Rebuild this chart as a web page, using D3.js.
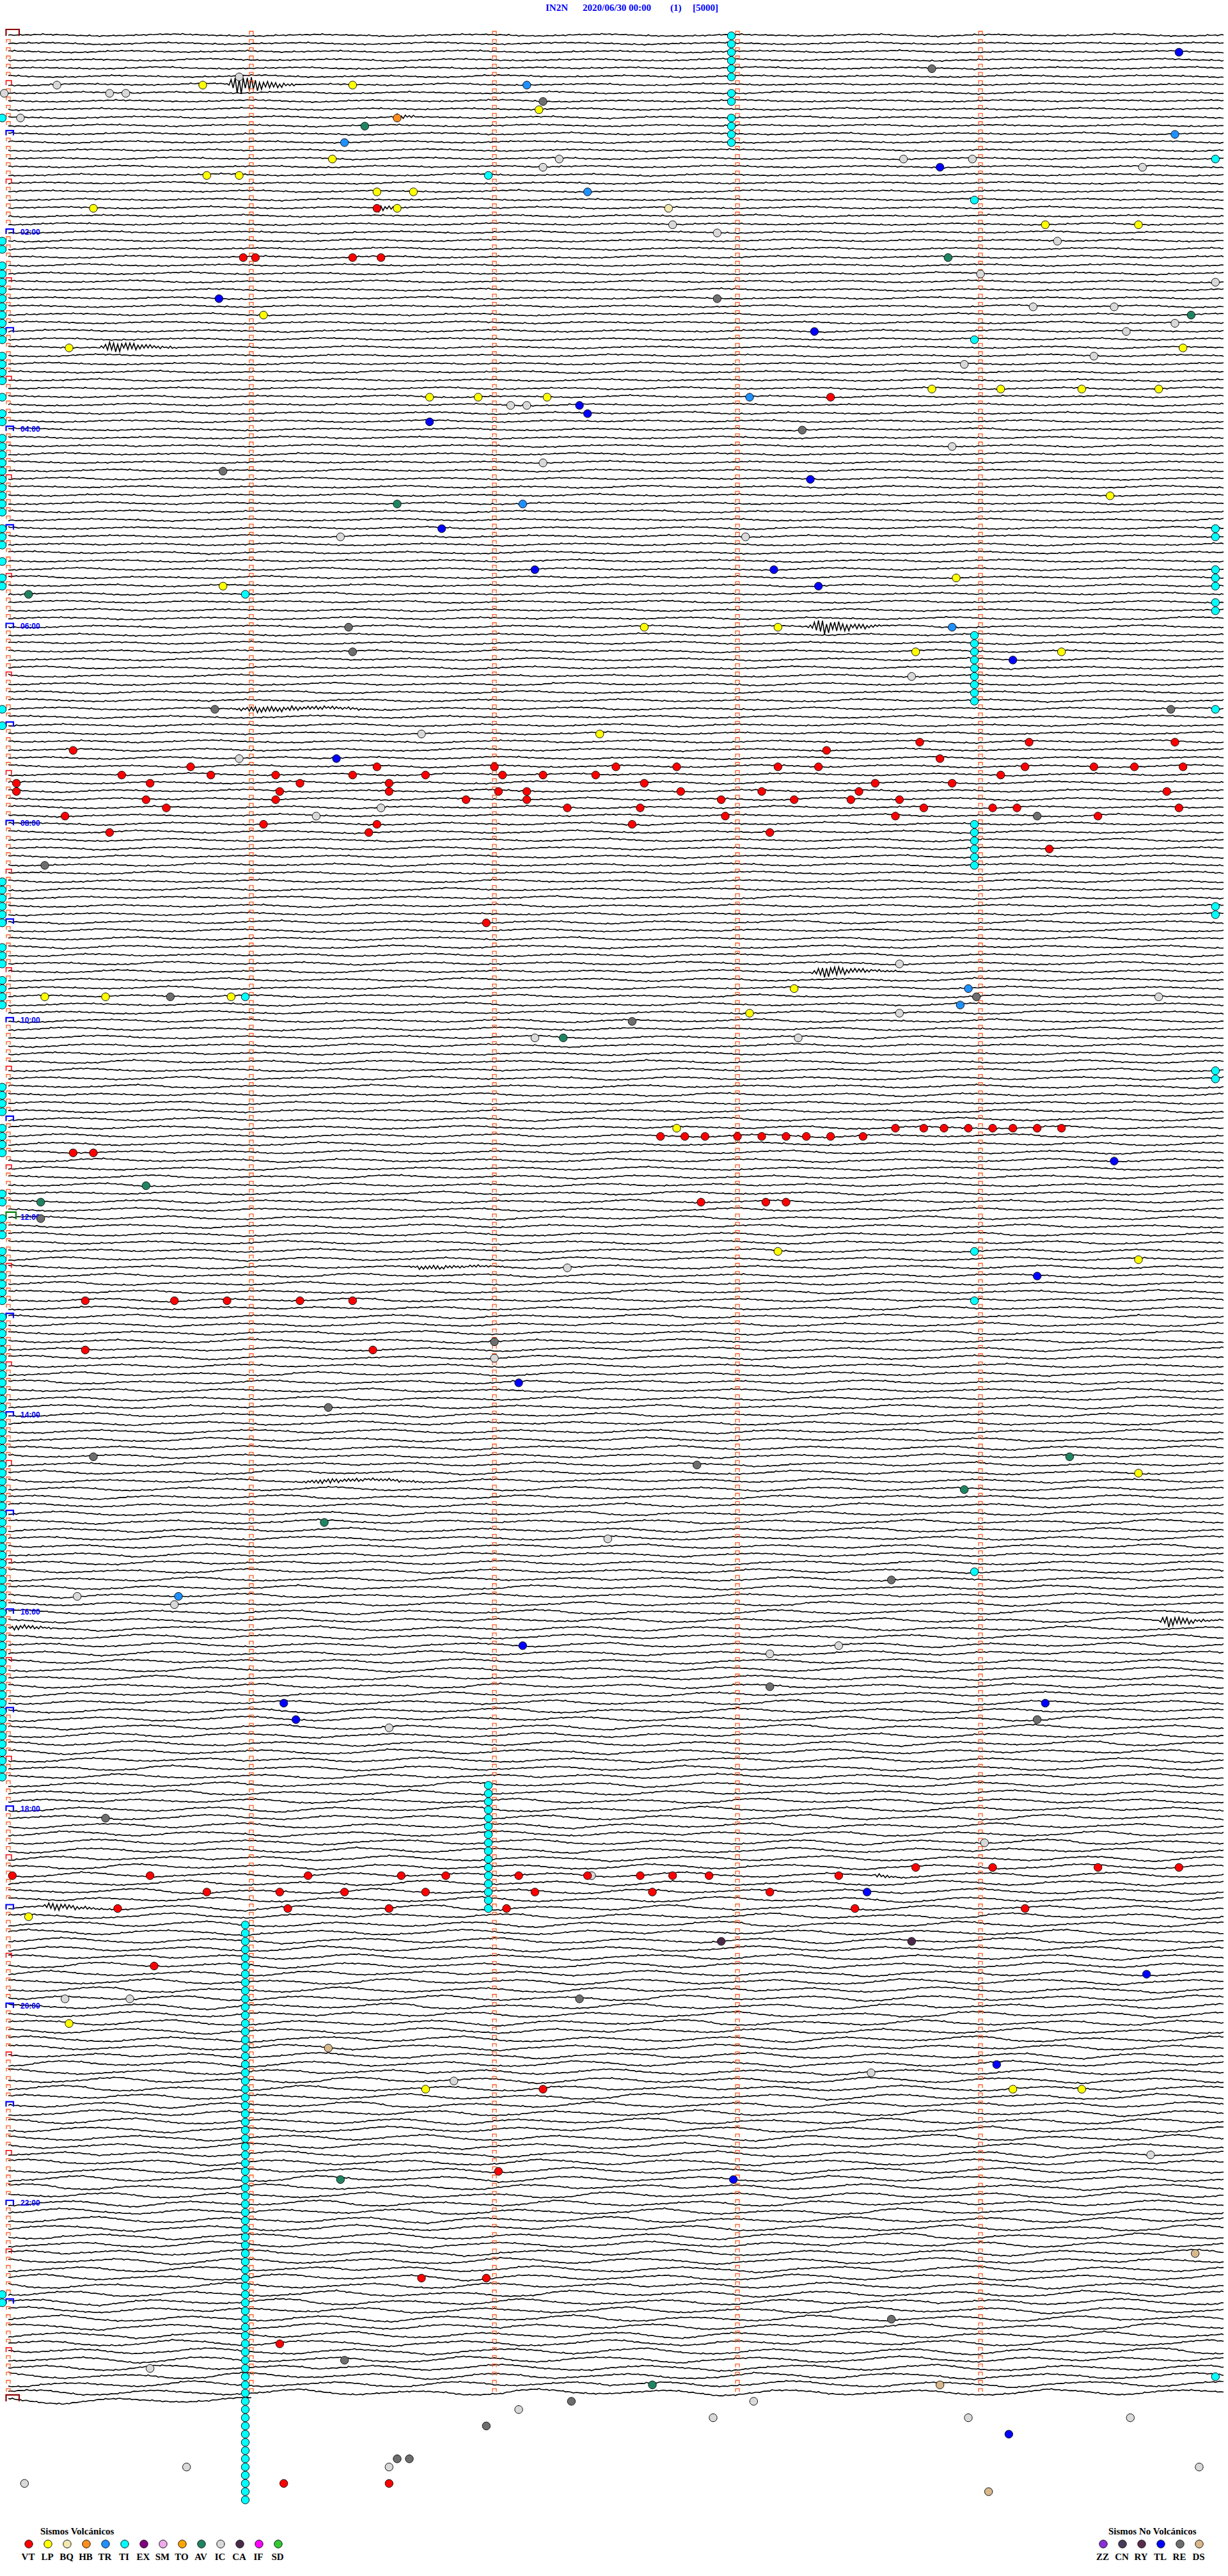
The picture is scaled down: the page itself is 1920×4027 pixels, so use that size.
<!DOCTYPE html>
<html><head><meta charset="utf-8">
<script src="https://cdn.jsdelivr.net/npm/d3@7"></script>
<style>body{margin:0;background:#fff}svg{display:block}</style>
</head><body>
<script>
// ---------- header ----------
const station = "IN2N", dateLabel = "2020/06/30 00:00", chanLabel = "(1)", scaleLabel = "[5000]";
// ---------- rows: one row = 5 minutes (300 s), 289 rows (00:00 .. 24:00) ----------
const lastRow = 288, lastRowEndSec = 60;
const labelHours = [2,4,6,8,10,12,14,16,18,20,22];
// background noise level per hour (relative)
const hourNoise = [0.6,0.6,0.65,0.65,0.65,0.7,0.75,0.75,0.8,0.85,0.9,0.95,1,1.05,1.1,1.15,1.25,1.35,1.45,1.55,1.6,1.65,1.7,1.75,1.75];
// typical trace wobble (px), one value every 4.5 s
const noiseShape = [0,1,2,1,-1,-2,-1,0,2,3,2,0,-1,-2,-2,0,1,2,1,0,-1,-3,-2,0,1,2,2,1,-1,-2,-1,1,2,3,1,-1,-2,-2,-1,1,2,1,0,-1,-2,-1,1,2,2,0,-2,-3,-1,1,2,1,0,-1,-1,0,2,3,2,-1,-2,-2,0,1,1,0,-1,-2,-1,1,3,2,0,-1,-2,-1,0,1,2,1,-1,-2,-2,0,2,2,1,-1,-1,0,1,2,1,-1];
const fineJitter = [0,0.6,0,-0.4,0,0,0.8,-0.6,0,0.3,0,-0.8,0,0.5,0,0,-0.5,1.2,0,-0.3,0,0.4,-1];
// seismic bursts on traces: row, start s, end s, amplitude px
const burstRows  = [6, 10, 21, 38, 72, 82, 114, 150, 176, 193, 194, 228, 224];
const burstStart = [54, 95, 90, 22, 197, 55, 198, 99, 71, 284, 0, 8, 213];
const burstEnd   = [73, 102, 99, 48, 220, 105, 222, 128, 121, 300, 14, 30, 226];
const burstAmp   = [17, 5, 6, 8, 12, 5, 9, 4, 3.5, 10, 5, 6, 3];
const burstEnv = [0,0.6,1,0.85,0.7,0.55,0.45,0.35,0.27,0.2,0.14,0.08,0.03,0];
const burstOsc = [1,-0.6,0.8,-1,0.5,-0.9,0.7,-0.4,0.9,-0.7];

// ---------- legend ----------
const volcanicCodes  = ["VT","LP","BQ","HB","TR","TI","EX","SM","TO","AV","IC","CA","IF","SD"];
const volcanicColors = ["#FF0000","#FFFF00","#F2E8B0","#FF8C1E","#1E90FF","#00FFFF","#800080","#EEAAEE","#FFA500","#1F8462","#D9D9D9","#4A2A48","#FF00FF","#32C832"];
const nonVolcCodes   = ["ZZ","CN","RY","TL","RE","DS"];
const nonVolcColors  = ["#8A30D8","#4A3A58","#5A2C4C","#0000FF","#6E6E6E","#D8B88C"];

// ---------- events: [row, second within row] ----------
const VT = [[21,91],[27,58],[27,61],[27,85],[27,92],[44,203],
[90,50],[90,66],[91,72],[92,67],[93,66],[96,63],[90,85],[89,91],[91,94],[92,94],[90,103],[96,91],[97,89],[89,45],
[87,16],[91,2],[92,2],[90,28],[91,35],[93,34],[94,39],[95,14],[97,25],[93,113],[89,120],[90,122],[92,121],[92,128],[93,128],[90,132],[94,138],[90,145],[89,150],[91,157],[94,156],[96,154],[89,165],[92,166],[93,176],[95,177],[97,188],[92,186],[89,190],[89,200],[87,202],[93,194],[93,208],[92,210],[91,214],[95,219],[93,220],[86,225],[88,230],[91,233],[94,226],[94,243],[90,245],[86,252],[89,251],[94,249],[99,257],[89,268],[95,269],[89,278],[86,288],[89,290],[92,286],[94,289],
[108,118],
[134,161],[134,167],[134,172],[134,180],[134,186],[134,192],[134,197],[134,203],[134,211],
[133,219],[133,226],[133,231],[133,237],[133,243],[133,248],[133,254],[133,260],
[136,16],[136,21],[142,171],[142,187],[142,192],
[154,19],[154,41],[154,54],[154,72],[154,85],[160,19],[160,90],
[224,1],[224,35],[224,74],[224,97],[224,108],[224,126],[224,143],[224,156],[224,164],[224,173],[224,205],[223,224],[223,243],[223,269],[223,289],
[226,49],[226,67],[226,83],[226,103],[226,130],[226,159],[226,188],
[228,27],[228,69],[228,94],[228,123],[228,209],[228,251],
[235,36],[250,132],[260,121],[273,102],[273,118],[281,67],[298,68],[298,94]];
const LP = [[6,48],[6,85],[9,131],[15,80],[17,49],[17,57],[19,91],[19,100],[21,21],[21,96],[23,256],[23,279],[34,63],[38,15],[38,290],[43,228],[43,245],[43,265],[43,284],[44,104],[44,116],[44,133],[56,272],[66,234],[67,53],[72,157],[72,190],[75,224],[75,260],[85,146],[116,194],[117,9],[117,24],[117,55],[119,183],[133,165],[148,190],[149,279],[175,279],[229,5],[242,15],[250,103],[250,248],[250,265]];
const TR = [[6,128],[12,288],[13,83],[19,143],[44,183],[57,127],[72,233],[116,237],[118,235],[190,42]];
const TL = [[2,289],[16,230],[32,52],[36,199],[45,141],[46,143],[47,104],[54,198],[60,107],[65,130],[65,189],[67,200],[76,248],[88,81],[137,273],[151,254],[164,126],[196,127],[203,68],[203,256],[205,71],[226,212],[236,281],[247,244],[261,179],[292,247]];
const RE = [[4,228],[8,132],[32,175],[48,196],[53,53],[72,84],[75,85],[82,51],[82,287],[95,254],[101,9],[117,40],[117,239],[120,154],[144,8],[159,120],[167,79],[173,21],[174,170],[188,218],[201,188],[205,254],[217,24],[239,141],[278,218],[283,83],[288,139],[291,118],[295,96],[295,99]];
const AV = [[11,88],[27,232],[34,292],[57,96],[68,5],[122,137],[140,34],[142,8],[173,262],[177,236],[181,78],[261,82],[286,159]];
const HB = [[10,96]];
const BQ = [[21,163]];
const CA = [[232,176],[232,223]];
const DS = [[245,79],[270,293],[286,230],[299,242]];
const IC = [[5,57],[6,12],[7,-1],[7,25],[7,29],[10,3],[15,136],[16,132],[15,221],[15,238],[16,280],[23,164],[24,175],[30,298],[25,259],[29,240],[33,253],[33,273],[36,276],[35,288],[39,268],[40,236],[45,124],[45,128],[50,233],[52,132],[61,82],[61,182],[78,223],[88,57],[94,92],[95,76],[85,102],[113,220],[117,284],[119,220],[122,130],[122,195],[150,138],[161,120],[183,148],[191,41],[190,17],[197,188],[196,205],[206,94],[220,241],[224,144],[239,14],[239,30],[248,213],[249,110],[258,282],[284,35],[289,126],[290,174],[288,184],[290,237],[290,277],[296,94],[296,44],[298,4],[296,294]];
// TI (tremor) markers sit in columns: second + rows
const TIsecs = [-1.5, 58.5, 118.5, 178.5, 238.5, 298];
const TIrows = [
 [10,25,26,28,29,30,31,32,33,34,35,36,37,39,40,41,42,44,46,47,49,50,51,52,53,54,55,56,57,58,60,61,62,64,66,67,82,84,103,104,105,106,107,108,111,112,113,115,116,117,118,128,129,130,131,133,134,135,136,141,142,144,145,146,148,149,150,151,152,153,154,156,157,158,159,160,161,162,163,164,165,166,167,168,169,170,171,172,173,174,175,176,177,178,179,180,181,182,183,184,185,186,187,188,189,190,191,192,193,194,195,196,197,198,199,200,201,202,203,204,205,206,207,208,209,210,211,212,275,276],
 [68,117,230,231,232,233,234,235,236,237,238,239,240,241,242,243,244,245,246,247,248,249,250,251,252,253,254,255,256,257,258,259,260,261,262,263,264,265,266,267,268,269,270,271,272,273,274,275,276,277,278,279,280,281,282,283,284,285,286,287,288,289,290,291,292,293,294,295,296,297,298,299,300],
 [17,213,214,215,216,217,218,219,220,221,222,223,224,225,226,227,228],
 [0,1,2,3,4,5,7,8,10,11,12,13],
 [20,37,73,74,75,76,77,78,79,80,81,96,97,98,99,100,101,148,154,187],
 [15,60,61,65,66,67,69,70,82,106,107,126,127,285]
];

// ---------- drawing ----------
const W = 1920, H = 4027;
const svg = d3.select("body").append("svg").attr("width", W).attr("height", H);
const x = d3.scaleLinear().domain([0, 300]).range([13, 1913]);
const y = d3.scaleLinear().domain([0, lastRow]).range([55, 55 + lastRow * 12.84]);

// title
const tg = svg.append("g").attr("font-family", "'Liberation Serif', 'DejaVu Serif', serif")
  .attr("font-weight", "bold").attr("font-size", 15).attr("fill", "#0000FF");
[[station, 853], [dateLabel, 911], [chanLabel, 1048], [scaleLabel, 1083]].forEach(([t, px]) =>
  tg.append("text").attr("x", px).attr("y", 17).text(t));

// traces
const step = 0.5, coarse = 4.5;
const lineGen = d3.line().x(d => d[0]).y(d => d[1]);
function trace(r) {
  const endSec = r === lastRow ? lastRowEndSec : 300;
  const amp = hourNoise[Math.floor(r / 12)];
  const N = noiseShape.length, M = fineJitter.length;
  const bs = burstRows.map((br, i) => br === r ? i : -1).filter(i => i >= 0);
  const pts = [];
  for (let j = 0; j * step <= endSec; j++) {
    const s = j * step;
    let u = (s / coarse + r * 41) % N;
    if (r % 2) u = (((N - 1 - u) % N) + N) % N;
    const i0 = Math.floor(u) % N, f = u - Math.floor(u);
    const c = noiseShape[i0] * (1 - f) + noiseShape[(i0 + 1) % N] * f;
    let v = amp * c + fineJitter[(j + r * 7) % M];
    for (const bi of bs) {
      const s0 = burstStart[bi], s1 = burstEnd[bi];
      if (s >= s0 && s <= s1) {
        const t = (s - s0) / (s1 - s0) * (burstEnv.length - 1);
        const k = Math.floor(t), g = t - k;
        const e = burstEnv[k] * (1 - g) + burstEnv[Math.min(k + 1, burstEnv.length - 1)] * g;
        v += burstAmp[bi] * e * burstOsc[j % burstOsc.length];
      }
    }
    pts.push([x(s), y(r) - v]);
  }
  return pts;
}
svg.append("g").attr("fill", "none").attr("stroke", "#000").attr("stroke-width", 1.6)
  .selectAll("path").data(d3.range(0, lastRow + 1)).join("path")
  .attr("d", r => lineGen(trace(r)));

// minute brackets
const bp = (x0, x1, yt, yb) => `M${x0},${yb}V${yt}H${x1}V${yb}`;
const minuteTicks = [];
d3.range(0, lastRow).forEach(r => {
  [0, 60, 120, 180, 240].forEach(s => {
    if (s === 0 && r % 6 === 0) return;
    minuteTicks.push([r, s]);
  });
});
svg.append("path").attr("fill", "none").attr("stroke", "#FF5A1F").attr("stroke-width", 1.3)
  .attr("d", minuteTicks.map(([r, s]) => bp(x(s) - 3, x(s) + 3, y(r) - 6, y(r) - 1)).join(""));

// special left brackets
d3.range(0, lastRow + 1, 6).forEach(r => {
  let col, x1, yt, yb, w;
  if (r === 0 || r === lastRow) { col = "#8B0000"; x1 = 30; yt = y(r) - 9; yb = y(r) + 1; w = 2.2; }
  else if (r === 144) { col = "#008000"; x1 = 25; yt = y(r) - 9; yb = y(r) + 2; w = 2.2; }
  else if (r % 12 === 0) { col = "#0000FF"; x1 = 21; yt = y(r) - 5; yb = y(r) + 2.5; w = 2.2; }
  else { col = "#FF0000"; x1 = 18; yt = y(r) - 6; yb = y(r) + 1; w = 1.5; }
  svg.append("path").attr("fill", "none").attr("stroke", col).attr("stroke-width", w)
    .attr("d", bp(9.5, x1, yt, yb));
});

// hour labels
svg.append("g").attr("font-family", "'Liberation Sans', Arial, sans-serif").attr("font-weight", "bold")
  .attr("font-size", 12).attr("fill", "#0000FF")
  .selectAll("text").data(labelHours).join("text")
  .attr("x", 32).attr("y", h => y(h * 12) + 3.5)
  .text(h => String(h).padStart(2, "0") + ":00");

// events
const colorOf = {};
volcanicCodes.forEach((c, i) => colorOf[c] = volcanicColors[i]);
nonVolcCodes.forEach((c, i) => colorOf[c] = nonVolcColors[i]);
const TI = [];
TIsecs.forEach((s, i) => TIrows[i].forEach(r => TI.push([r, s])));
const groups = [["IC", IC], ["RE", RE], ["DS", DS], ["BQ", BQ], ["CA", CA], ["AV", AV], ["HB", HB], ["TR", TR], ["TL", TL], ["LP", LP], ["VT", VT], ["TI", TI]];
const evg = svg.append("g").attr("stroke", "#111").attr("stroke-width", 1);
groups.forEach(([code, arr]) => {
  evg.append("g").attr("fill", colorOf[code])
    .selectAll("circle").data(arr).join("circle")
    .attr("cx", d => x(d[1])).attr("cy", d => y(d[0]) + 1).attr("r", 6.2);
});

// legends
function legend(title, titleX, codes, colors, x0) {
  const g = svg.append("g").attr("font-family", "'Liberation Serif', 'DejaVu Serif', serif").attr("font-weight", "bold");
  g.append("text").attr("x", titleX).attr("y", 3962).attr("font-size", 15).attr("fill", "#000").text(title);
  const lx = d3.scaleLinear().domain([0, 1]).range([x0, x0 + 30]);
  g.selectAll("circle").data(codes).join("circle")
    .attr("cx", (d, i) => lx(i)).attr("cy", 3977).attr("r", 6.2)
    .attr("fill", (d, i) => colors[i]).attr("stroke", "#111").attr("stroke-width", 1);
  g.selectAll("text.lab").data(codes).join("text").attr("class", "lab")
    .attr("x", (d, i) => lx(i) - 1).attr("y", 4002).attr("text-anchor", "middle")
    .attr("font-size", 15).attr("fill", "#000").text(d => d);
}
legend("Sismos Volcánicos", 63, volcanicCodes, volcanicColors, 45);
legend("Sismos No Volcánicos", 1733, nonVolcCodes, nonVolcColors, 1725);
</script>
</body></html>
